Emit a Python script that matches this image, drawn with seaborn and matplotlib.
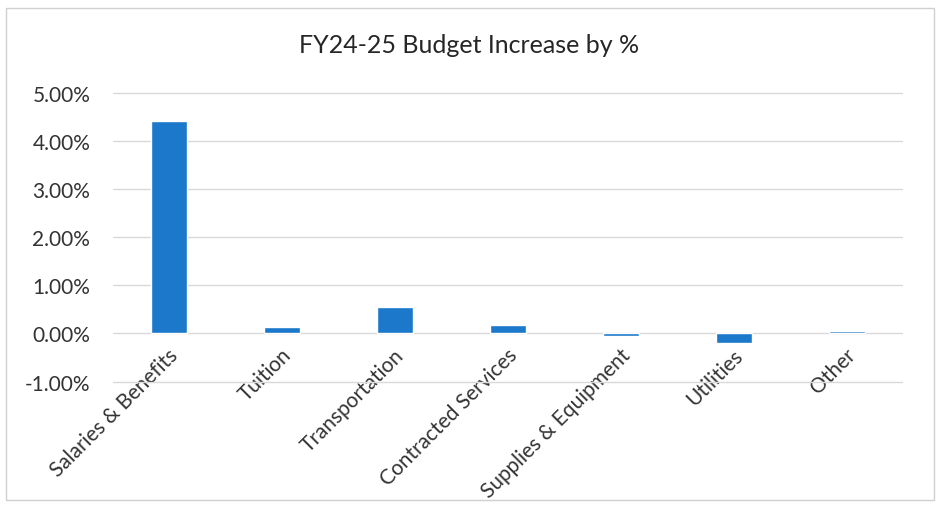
import matplotlib
matplotlib.use("Agg")
import matplotlib.pyplot as plt
import matplotlib.transforms as mtrans
import seaborn as sns
import pandas as pd
from matplotlib.ticker import FuncFormatter
from matplotlib.patches import Rectangle

categories = ["Salaries & Benefits", "Tuition", "Transportation", "Contracted Services",
              "Supplies & Equipment", "Utilities", "Other"]
values = [4.40, 0.13, 0.55, 0.18, -0.05, -0.20, 0.05]
title = "FY24-25 Budget Increase by %"

sns.set_theme(style="white")
plt.rcParams['font.family'] = ['Lato', 'DejaVu Sans']

df = pd.DataFrame({"Category": categories, "Increase": values})

fig = plt.figure(figsize=(9.38, 5.06), dpi=100)
ax = fig.add_axes([0.12, 0.24, 0.843, 0.576])

sns.barplot(data=df, x="Category", y="Increase", color="#1B78CB", width=0.32,
            saturation=1, ax=ax)

ax.set_ylim(-1.04, 5.01)
ax.set_yticks([-1, 0, 1, 2, 3, 4, 5])
ax.yaxis.set_major_formatter(FuncFormatter(lambda v, p: f"{v:.2f}%"))
ax.grid(axis="y", color="#d9d9d9", linewidth=1)
ax.set_axisbelow(True)
for s in ax.spines.values():
    s.set_visible(False)
ax.set_xlabel("")
ax.set_ylabel("")
ax.tick_params(axis="y", labelsize=15, colors="#333333", length=0, pad=16)
ax.tick_params(axis="x", labelsize=15, colors="#333333", length=0, pad=0)
plt.setp(ax.get_xticklabels(), rotation=45, ha="right", va="center", rotation_mode="anchor")
offset = mtrans.ScaledTranslation(0.06, 0.32, fig.dpi_scale_trans)
for lbl in ax.get_xticklabels():
    lbl.set_transform(lbl.get_transform() + offset)

fig.text(0.5, 0.91, title, ha="center", va="center", fontsize=18, color="#262626")

fig.patches.append(Rectangle((0.006, 0.01), 0.99, 0.972, transform=fig.transFigure,
                             fill=False, edgecolor="#d0d0d0", linewidth=1))

fig.savefig("out.png", dpi=100)
